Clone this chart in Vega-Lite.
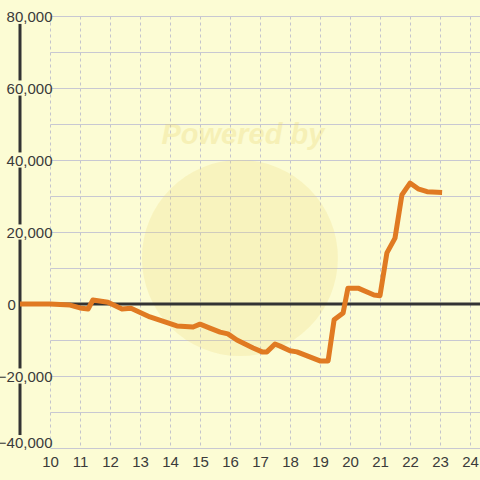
{
  "$schema": "https://vega.github.io/schema/vega-lite/v6.json",
  "width": 430,
  "height": 432,
  "autosize": {"type": "none"},
  "padding": {"left": 50, "top": 16, "right": 0, "bottom": 32},
  "background": "#fcfcd4",
  "config": {
    "view": {"stroke": null, "fill": "#fcfcd4"},
    "axis": {"labelFont": "Liberation Sans", "labelFontSize": 15, "labelColor": "#3a3a3a", "domain": false, "ticks": false, "tickSize": 0, "title": null}
  },
  "datasets": {
    "pl": [
      {"t": 9, "v": 0}, {"t": 10, "v": 0}, {"t": 10.67, "v": -300}, {"t": 11.0, "v": -1100},
      {"t": 11.27, "v": -1400}, {"t": 11.43, "v": 1100}, {"t": 11.93, "v": 500}, {"t": 12.4, "v": -1400},
      {"t": 12.7, "v": -1200}, {"t": 13.33, "v": -3600}, {"t": 14.23, "v": -6100}, {"t": 14.77, "v": -6400},
      {"t": 15.0, "v": -5600}, {"t": 15.33, "v": -6700}, {"t": 15.67, "v": -7800}, {"t": 15.93, "v": -8300},
      {"t": 16.23, "v": -10000}, {"t": 16.77, "v": -12200}, {"t": 17.07, "v": -13300}, {"t": 17.23, "v": -13300},
      {"t": 17.5, "v": -11100}, {"t": 17.67, "v": -11700}, {"t": 18.0, "v": -13000}, {"t": 18.23, "v": -13300},
      {"t": 19.0, "v": -15800}, {"t": 19.27, "v": -15800}, {"t": 19.47, "v": -4400}, {"t": 19.77, "v": -2500},
      {"t": 19.93, "v": 4400}, {"t": 20.27, "v": 4400}, {"t": 20.8, "v": 2500}, {"t": 21.0, "v": 2300},
      {"t": 21.23, "v": 14200}, {"t": 21.5, "v": 18300}, {"t": 21.73, "v": 30300}, {"t": 22.0, "v": 33600},
      {"t": 22.27, "v": 32000}, {"t": 22.57, "v": 31200}, {"t": 23.07, "v": 31000}
    ],
    "yline": [
      {"t": 9, "v": 77800, "v2": 62100}, {"t": 9, "v": 57900, "v2": 42100}, {"t": 9, "v": 37900, "v2": 22100},
      {"t": 9, "v": 17900, "v2": -17900}, {"t": 9, "v": -22100, "v2": -36400}
    ]
  },
  "encoding": {
    "x": {"field": "t", "type": "quantitative", "scale": {"domain": [10, 24.3333], "nice": false, "zero": false},
      "axis": {"values": [10, 11, 12, 13, 14, 15, 16, 17, 18, 19, 20, 21, 22, 23, 24], "grid": true, "gridColor": "#c4c4cc", "gridDash": [3, 3], "gridWidth": 1, "labelPadding": 6, "labelFlush": false, "labelOverlap": false, "format": "d"}},
    "y": {"field": "v", "type": "quantitative", "scale": {"domain": [-40000, 80000], "nice": false, "zero": false},
      "axis": {"values": [-40000, -30000, -20000, -10000, 0, 10000, 20000, 30000, 40000, 50000, 60000, 70000, 80000],
        "grid": true, "gridColor": "#c8c8d2", "gridWidth": 1, "labelFlush": false, "labelOverlap": false,
        "labelExpr": "datum.value % 20000 == 0 ? datum.label : ''",
        "labelAlign": {"condition": {"test": "datum.value == 0", "value": "left"}, "value": "right"},
        "labelPadding": {"condition": {"test": "datum.value == 0", "value": 43}, "value": -2},
        "labelOffset": {"condition": {"test": "datum.value == -40000", "value": -6}, "value": 0}}}
  },
  "layer": [
    {
      "data": {"values": [{"t": 16.33, "v": 12778}]},
      "mark": {"type": "point", "shape": "circle", "filled": true, "size": 38400, "color": "#efd870", "opacity": 0.22, "strokeWidth": 0}
    },
    {
      "data": {"values": [{"t": 16.43, "v": 46944, "s": "Powered by"}]},
      "mark": {"type": "text", "font": "Liberation Sans", "fontSize": 29, "fontWeight": "bold", "fontStyle": "italic", "color": "#e8d060", "opacity": 0.25, "align": "center", "baseline": "middle"},
      "encoding": {"text": {"field": "s"}}
    },
    {
      "data": {"name": "yline"},
      "mark": {"type": "rule", "color": "#333333", "strokeWidth": 3},
      "encoding": {"y2": {"field": "v2"}}
    },
    {
      "data": {"values": [{"t": 9, "t2": 24.34, "v": 0}]},
      "mark": {"type": "rule", "color": "#333333", "strokeWidth": 3},
      "encoding": {"x2": {"field": "t2"}}
    },
    {
      "data": {"name": "pl"},
      "mark": {"type": "line", "color": "#e07a22", "strokeWidth": 5, "strokeJoin": "round"}
    }
  ]
}
